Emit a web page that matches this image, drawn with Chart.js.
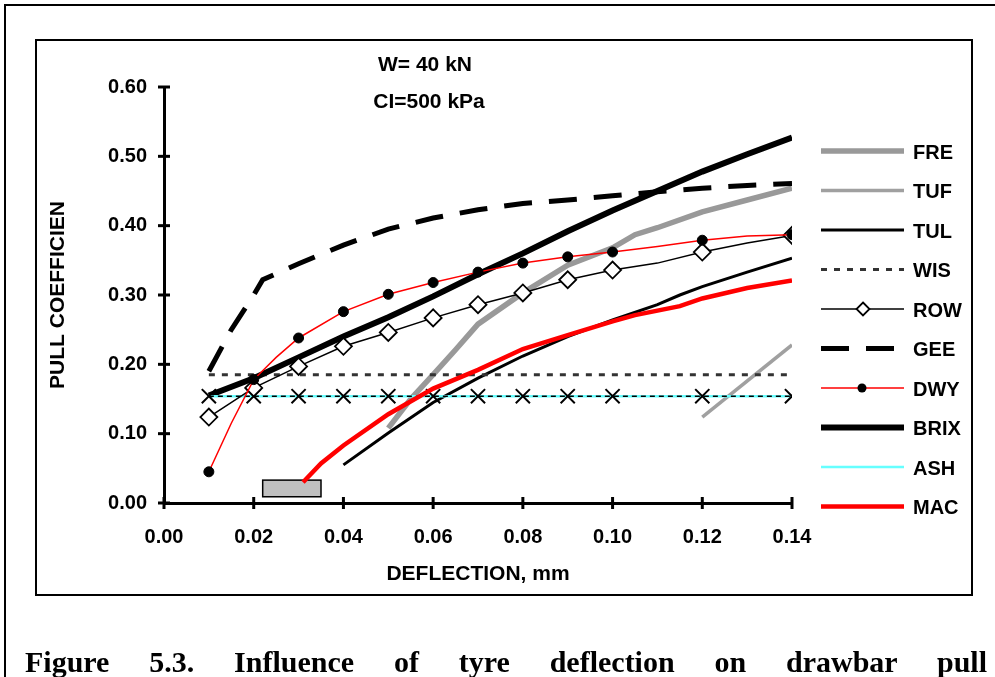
<!DOCTYPE html>
<html>
<head>
<meta charset="utf-8">
<title>Pull coefficient vs deflection</title>
<script src="https://cdn.jsdelivr.net/npm/chart.js@4.4.1/dist/chart.umd.min.js"></script>
<style>
    html, body { margin: 0; padding: 0; background: #fff; overflow: hidden; }
    body { width: 995px; height: 677px; position: relative; }
    .outer { position: absolute; left: 4px; top: 4px; width: 1100px; height: 900px; border-left: 2px solid #000; border-top: 2px solid #000; }
    .inner { position: absolute; left: 35px; top: 39px; width: 934px; height: 553px; border: 2px solid #000; }
    #chart { position: absolute; left: 0; top: 0; }
    .caption {
        position: absolute; left: 25px; top: 647px; width: 962px;
        font: bold 30px "Liberation Serif", "Times New Roman", serif;
        line-height: 30px; text-align: justify; text-align-last: justify;
    }
</style>
</head>
<body>
<div class="outer"></div>
<div class="inner"></div>
<canvas id="chart" width="995" height="677"></canvas>
<div class="caption">Figure 5.3. Influence of tyre deflection on drawbar pull</div>

<script>
// values (x = deflection, y = pull coefficient)
const freX = [0.05, 0.055, 0.06, 0.065, 0.07, 0.08, 0.09, 0.10, 0.105, 0.11, 0.12, 0.13, 0.14];
const freY = [0.108, 0.15, 0.185, 0.221, 0.258, 0.303, 0.343, 0.368, 0.387, 0.397, 0.42, 0.437, 0.454];

const tufX = [0.12, 0.14];
const tufY = [0.124, 0.228];

const tulX = [0.04, 0.05, 0.06, 0.07, 0.08, 0.09, 0.10, 0.11, 0.115, 0.12, 0.13, 0.14];
const tulY = [0.055, 0.101, 0.145, 0.18, 0.212, 0.24, 0.264, 0.286, 0.30, 0.312, 0.333, 0.353];

const wisX = [0.01, 0.14];
const wisY = [0.185, 0.185];

const rowX = [0.01, 0.02, 0.03, 0.04, 0.05, 0.06, 0.07, 0.08, 0.09, 0.10, 0.11, 0.12, 0.13, 0.14];
const rowY = [0.124, 0.166, 0.197, 0.226, 0.246, 0.267, 0.286, 0.303, 0.322, 0.336, 0.346, 0.362, 0.375, 0.386];

const geeX = [0.01, 0.015, 0.02, 0.022, 0.03, 0.04, 0.05, 0.06, 0.07, 0.08, 0.09, 0.10, 0.11, 0.12, 0.13, 0.14];
const geeY = [0.19, 0.25, 0.30, 0.322, 0.345, 0.372, 0.395, 0.411, 0.423, 0.432, 0.437, 0.443, 0.449, 0.454, 0.458, 0.461];

const dwyX = [0.01, 0.015, 0.02, 0.025, 0.03, 0.04, 0.05, 0.06, 0.07, 0.08, 0.09, 0.10, 0.11, 0.12, 0.13, 0.14];
const dwyY = [0.045, 0.115, 0.178, 0.21, 0.238, 0.276, 0.301, 0.318, 0.333, 0.346, 0.355, 0.362, 0.37, 0.379, 0.385, 0.387];

const brixX = [0.01, 0.02, 0.03, 0.04, 0.05, 0.06, 0.07, 0.08, 0.09, 0.10, 0.11, 0.12, 0.13, 0.14];
const brixY = [0.155, 0.18, 0.21, 0.24, 0.268, 0.298, 0.33, 0.36, 0.392, 0.422, 0.45, 0.478, 0.503, 0.527];

const ashX = [0.01, 0.14];
const ashY = [0.154, 0.154];

const macX = [0.031, 0.035, 0.04, 0.05, 0.06, 0.07, 0.08, 0.09, 0.10, 0.105, 0.115, 0.12, 0.13, 0.14];
const macY = [0.03, 0.057, 0.083, 0.128, 0.165, 0.192, 0.222, 0.242, 0.262, 0.271, 0.284, 0.295, 0.31, 0.321];

// unlabelled dashed series with x markers
const crossX = [0.01, 0.02, 0.03, 0.04, 0.05, 0.06, 0.07, 0.08, 0.09, 0.10, 0.12, 0.14];
const crossY = [0.154, 0.154, 0.154, 0.154, 0.154, 0.154, 0.154, 0.154, 0.154, 0.154, 0.154, 0.154];

// deflections where ROW / DWY carry a marker
const markedAt = [0.01, 0.02, 0.03, 0.04, 0.05, 0.06, 0.07, 0.08, 0.09, 0.10, 0.12, 0.14];

// grey block near the x axis (data units)
const boxX = [0.022, 0.035];
const boxY = [0.009, 0.033];

const notes = ['W= 40 kN', 'CI=500 kPa'];

const FONT = '"Liberation Sans", Arial, sans-serif';

function pts(xs, ys) {
    return xs.map((x, i) => ({ x: x, y: ys[i] }));
}

function marks(xs, r) {
    return xs.map(x => markedAt.includes(x) ? r : 0);
}

const datasets = [
    { label: 'FRE', data: pts(freX, freY), borderColor: '#999999', borderWidth: 5.5, pointRadius: 0, order: 9 },
    { label: 'TUF', data: pts(tufX, tufY), borderColor: '#a0a0a0', borderWidth: 3.5, pointRadius: 0, order: 8 },
    { label: 'TUL', data: pts(tulX, tulY), borderColor: '#000000', borderWidth: 3, pointRadius: 0, order: 7 },
    { label: 'WIS', data: pts(wisX, wisY), borderColor: '#333333', borderWidth: 3, borderDash: [6, 7], pointRadius: 0, order: 6 },
    {
        label: 'ROW', data: pts(rowX, rowY), borderColor: '#000000', borderWidth: 1.5,
        pointStyle: 'rectRot', pointRadius: marks(rowX, 8.5), pointBackgroundColor: '#ffffff',
        pointBorderColor: '#000000', pointBorderWidth: 1.8, order: 1
    },
    { label: 'GEE', data: pts(geeX, geeY), borderColor: '#000000', borderWidth: 5, borderDash: [28, 17], pointRadius: 0, order: 5 },
    {
        label: 'DWY', data: pts(dwyX, dwyY), borderColor: '#ff0000', borderWidth: 1.5,
        pointStyle: 'circle', pointRadius: marks(dwyX, 5), pointBackgroundColor: '#000000',
        pointBorderColor: '#000000', pointBorderWidth: 1, order: 0
    },
    { label: 'BRIX', data: pts(brixX, brixY), borderColor: '#000000', borderWidth: 6, pointRadius: 0, order: 4 },
    { label: 'ASH', data: pts(ashX, ashY), borderColor: '#66ffff', borderWidth: 2.5, pointRadius: 0, order: 3.5 },
    { label: 'MAC', data: pts(macX, macY), borderColor: '#ff0000', borderWidth: 4.5, pointRadius: 0, order: 2 },
    {
        label: '', data: pts(crossX, crossY), borderColor: '#000000', borderWidth: 1.5, borderDash: [5, 4],
        pointStyle: 'crossRot', pointRadius: 10, pointBorderColor: '#000000', pointBorderWidth: 2, order: 3
    }
];

// axis ticks that cross the axis line, the grey block, the notes and the side legend
const extras = {
    id: 'extras',
    beforeDatasetsDraw(chart) {
        const ctx = chart.ctx;
        const xs = chart.scales.x, ys = chart.scales.y;
        ctx.save();
        ctx.strokeStyle = '#000';
        ctx.lineWidth = 3;
        ys.ticks.forEach(t => {
            const py = ys.getPixelForValue(t.value);
            ctx.beginPath();
            ctx.moveTo(xs.left - 6, py);
            ctx.lineTo(xs.left + 6, py);
            ctx.stroke();
        });
        xs.ticks.forEach(t => {
            const px = xs.getPixelForValue(t.value);
            ctx.beginPath();
            ctx.moveTo(px, ys.bottom - 6);
            ctx.lineTo(px, ys.bottom + 6);
            ctx.stroke();
        });

        const bx0 = xs.getPixelForValue(boxX[0]), bx1 = xs.getPixelForValue(boxX[1]);
        const by0 = ys.getPixelForValue(boxY[0]), by1 = ys.getPixelForValue(boxY[1]);
        ctx.fillStyle = '#c0c0c0';
        ctx.fillRect(bx0, by1, bx1 - bx0, by0 - by1);
        ctx.lineWidth = 1.5;
        ctx.strokeRect(bx0, by1, bx1 - bx0, by0 - by1);
        ctx.restore();
    },
    afterDraw(chart) {
        const ctx = chart.ctx;
        ctx.save();
        ctx.fillStyle = '#000';
        ctx.font = 'bold 21px ' + FONT;
        ctx.textAlign = 'center';
        ctx.textBaseline = 'middle';
        ctx.fillText(notes[0], 425, 65);
        ctx.fillText(notes[1], 429, 102);

        ctx.textAlign = 'left';
        ctx.font = 'bold 20px ' + FONT;
        chart.data.datasets.forEach((ds, i) => {
            if (!ds.label) return;
            const y = 151 + i * 39.5;
            ctx.strokeStyle = ds.borderColor;
            ctx.lineWidth = ds.borderWidth;
            ctx.setLineDash(ds.borderDash || []);
            ctx.beginPath();
            ctx.moveTo(821, y);
            ctx.lineTo(904, y);
            ctx.stroke();
            ctx.setLineDash([]);
            if (ds.pointStyle === 'rectRot') {
                ctx.beginPath();
                ctx.moveTo(863, y - 6.5);
                ctx.lineTo(869.5, y);
                ctx.lineTo(863, y + 6.5);
                ctx.lineTo(856.5, y);
                ctx.closePath();
                ctx.fillStyle = '#fff';
                ctx.fill();
                ctx.strokeStyle = '#000';
                ctx.lineWidth = 1.8;
                ctx.stroke();
            } else if (ds.pointStyle === 'circle') {
                ctx.beginPath();
                ctx.arc(862, y, 4.5, 0, Math.PI * 2);
                ctx.fillStyle = '#000';
                ctx.fill();
            }
            ctx.fillStyle = '#000';
            ctx.fillText(ds.label, 913, y + 2);
        });
        ctx.restore();
    }
};

new Chart(document.getElementById('chart'), {
    type: 'line',
    data: { datasets: datasets },
    options: {
        responsive: false,
        animation: false,
        events: [],
        layout: { padding: { left: 36, top: 87, right: 203, bottom: 82 } },
        elements: { line: { tension: 0, fill: false } },
        plugins: { legend: { display: false }, tooltip: { enabled: false } },
        scales: {
            x: {
                type: 'linear',
                min: 0, max: 0.14,
                afterFit: s => { s.height = 92; },
                grid: { display: false, drawTicks: false },
                border: { display: true, color: '#000', width: 3 },
                ticks: {
                    stepSize: 0.02, padding: 22, color: '#000',
                    font: { family: FONT, size: 20, weight: 'bold' },
                    callback: v => v.toFixed(2)
                },
                title: {
                    display: true, text: 'DEFLECTION, mm', color: '#000',
                    font: { family: FONT, size: 21, weight: 'bold' },
                    padding: { top: 0, bottom: 8 }
                }
            },
            y: {
                min: 0, max: 0.6,
                afterFit: s => { s.width = 128; },
                grid: { display: false, drawTicks: false },
                border: { display: true, color: '#000', width: 3 },
                ticks: {
                    stepSize: 0.1, padding: 17, color: '#000',
                    font: { family: FONT, size: 20, weight: 'bold' },
                    callback: v => v.toFixed(2)
                },
                title: {
                    display: true, text: 'PULL COEFFICIEN', color: '#000',
                    font: { family: FONT, size: 21, weight: 'bold' },
                    padding: { top: 10, bottom: 0 }
                }
            }
        }
    },
    plugins: [extras]
});
</script>
</body>
</html>
